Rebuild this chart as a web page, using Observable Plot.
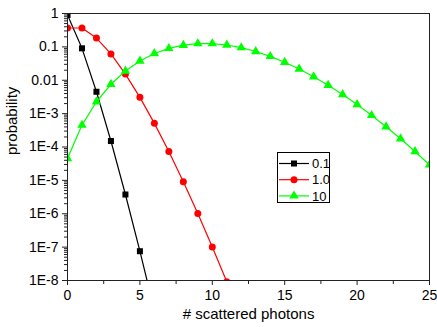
<!DOCTYPE html>
<html><head><meta charset="utf-8">
<script src="https://cdn.jsdelivr.net/npm/d3@7"></script>
<script src="https://cdn.jsdelivr.net/npm/@observablehq/plot@0.6"></script>
<style>
body{margin:0;background:#fff;font-family:Arial,"Liberation Sans",sans-serif}
#wrap{position:relative;width:437px;height:327px}
#legend{position:absolute;left:277px;top:152px;width:53px;height:51px;border:1px solid #000;background:#fff;box-sizing:border-box}
</style></head><body><div id="wrap"></div>
<script>
// Series: mean number of scattered photons 0.1, 1.0, 10
const photonsA = [0, 1, 2, 3, 4, 5, 6];
const probA = [0.905, 0.0905, 0.00452, 1.51e-4, 3.77e-6, 7.54e-8, 1.26e-9];

const photonsB = [0, 1, 2, 3, 4, 5, 6, 7, 8, 9, 10, 11];
const probB = [0.368, 0.368, 0.184, 0.0613, 0.0153, 0.00307, 5.11e-4, 7.30e-5, 9.12e-6, 1.01e-6, 1.01e-7, 9.22e-9];

const photonsC = [0, 1, 2, 3, 4, 5, 6, 7, 8, 9, 10, 11, 12, 13, 14, 15, 16, 17, 18, 19, 20, 21, 22, 23, 24, 25];
const probC = [4.54e-5, 4.54e-4, 2.27e-3, 7.57e-3, 0.0189, 0.0378, 0.0631, 0.0901, 0.1126, 0.1251, 0.1251, 0.1137, 0.0948, 0.0729, 0.0521, 0.0347, 0.0217, 0.0128, 0.00709, 0.00373, 0.00187, 8.89e-4, 4.04e-4, 1.76e-4, 7.32e-5, 2.93e-5];

const seriesNames = ["0.1", "1.0", "10"];
const seriesColors = ["#000000", "#ff0000", "#00ff00"];
const seriesSymbols = ["square", "circle", "triangle"];
const seriesR = [3.4, 3.5, 3.5];

const xTicks = [0, 5, 10, 15, 20, 25];
const xMinorTicks = [2.5, 7.5, 12.5, 17.5, 22.5];
const yTicks = [1, 0.1, 0.01, 1e-3, 1e-4, 1e-5, 1e-6, 1e-7, 1e-8];
const yTickLabels = ["1", "0.1", "0.01", "1E-3", "1E-4", "1E-5", "1E-6", "1E-7", "1E-8"];
const xLabel = "# scattered photons";
const yLabel = "probability";

const seriesX = [photonsA, photonsB, photonsC];
const seriesY = [probA, probB, probC];
const data = seriesNames.map((s, i) => seriesX[i].map((n, j) => ({series: s, n, p: seriesY[i][j]})));

const yMinor = [];
for (let e = -8; e < 0; e++) for (let m = 2; m <= 9; m++) yMinor.push(m * Math.pow(10, e));

const marks = [];
data.forEach((d, i) => {
  marks.push(Plot.line(d, {x: "n", y: "p", stroke: seriesColors[i], strokeWidth: 1.2, clip: true}));
  marks.push(Plot.dot(d, {x: "n", y: "p", symbol: () => seriesSymbols[i], r: seriesR[i], fill: seriesColors[i], stroke: "none", clip: true}));
});

const chart = Plot.plot({
  width: 437, height: 327,
  marginLeft: 67, marginRight: 8, marginTop: 13, marginBottom: 47,
  style: {fontFamily: "Arial, 'Liberation Sans', sans-serif", background: "#fff", color: "#000"},
  x: {domain: [0, 25], label: null},
  y: {type: "log", domain: [1e-8, 1], label: null},
  marks: [
    Plot.axisX({ticks: xMinorTicks, tickSize: 4, tickFormat: () => "", label: null, stroke: "#222"}),
    Plot.axisX({ticks: xTicks, tickSize: 5, tickPadding: 5, fontSize: 14, label: null, stroke: "#222"}),
    Plot.axisY({ticks: yMinor, tickSize: 3, tickFormat: () => "", label: null, stroke: "#222"}),
    Plot.axisY({ticks: yTicks, tickSize: 5, tickPadding: 4, fontSize: 14, label: null, stroke: "#222",
      tickFormat: d => yTickLabels[yTicks.indexOf(d)]}),
    ...marks,
    Plot.frame({stroke: "#222"}),
    Plot.text([xLabel], {frameAnchor: "bottom", dy: 38, fontSize: 15, text: d => d}),
    Plot.text([yLabel], {frameAnchor: "left", dx: -55, dy: 8, rotate: -90, fontSize: 15, text: d => d})
  ]
});
const wrap = document.getElementById("wrap");
wrap.appendChild(chart);

// legend
const leg = d3.select(wrap).append("div").attr("id", "legend");
const lsvg = leg.append("svg").attr("width", 53).attr("height", 51);
const symMap = {square: d3.symbolSquare, circle: d3.symbolCircle, triangle: d3.symbolTriangle};
seriesNames.forEach((s, i) => {
  const y = 10.5 + i * 16.2;
  lsvg.append("line").attr("x1", 1).attr("x2", 31).attr("y1", y).attr("y2", y)
    .attr("stroke", seriesColors[i]).attr("stroke-width", 1.2);
  lsvg.append("path").attr("transform", `translate(16,${y})`)
    .attr("d", d3.symbol(symMap[seriesSymbols[i]], Math.PI * seriesR[i] * seriesR[i])())
    .attr("fill", seriesColors[i]);
  lsvg.append("text").attr("x", 34).attr("y", y).attr("dy", "0.36em")
    .attr("font-size", 13).attr("font-family", "Arial, 'Liberation Sans', sans-serif").text(s);
});
</script></body></html>
